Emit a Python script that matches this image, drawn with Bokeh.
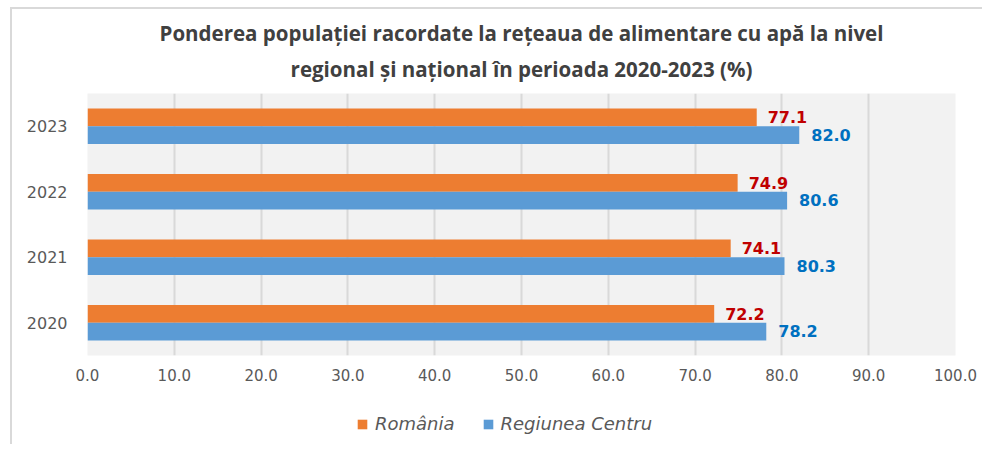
from bokeh.plotting import figure
from bokeh.models import FactorRange, Range1d, Legend, LegendItem, ColumnDataSource, NumeralTickFormatter, FixedTicker, Title
from bokeh.layouts import column
from bokeh.transform import dodge
from bokeh.core.properties import value
from bokeh.embed import file_html
from bokeh.resources import INLINE

years = ["2020", "2021", "2022", "2023"]
romania = [72.2, 74.1, 74.9, 77.1]
centru = [78.2, 80.3, 80.6, 82.0]
series_names = ["România", "Regiunea Centru"]
series_colors = ["#ed7d31", "#5b9bd5"]
x_ticks = [0, 10, 20, 30, 40, 50, 60, 70, 80, 90, 100]
title_lines = ["Ponderea populației racordate la rețeaua de alimentare cu apă la nivel",
               "regional și național în perioada 2020-2023 (%)"]

src = ColumnDataSource(dict(
    year=years, ro=romania, ce=centru,
    ro_lbl=[f"{v:.1f}" for v in romania],
    ce_lbl=[f"{v:.1f}" for v in centru],
))

W = 970
p = figure(width=W, height=391, y_range=FactorRange(factors=years),
           x_range=Range1d(0, 100), output_backend="svg", toolbar_location=None,
           min_border_left=75, min_border_right=27, min_border_top=84, min_border_bottom=45)

def style_title(t):
    t.align = "center"
    t.text_font = "Open Sans"
    t.text_font_size = "20.5px"
    t.text_font_style = "bold"
    t.text_color = "#404040"

p.title.text = title_lines[0]
style_title(p.title)
p.title.standoff = -11
p.title.offset = -27
t2 = Title(text=title_lines[1])
style_title(t2)
t2.standoff = 22
t2.offset = -15
p.add_layout(t2, "above")

p.background_fill_color = "#f2f2f2"
p.border_fill_color = "white"
p.outline_line_color = None

bh = 0.27
r_ro = p.hbar(y=dodge("year", 0.135, range=p.y_range), right="ro", left=0, height=bh,
              source=src, fill_color=series_colors[0], line_color=None)
r_ce = p.hbar(y=dodge("year", -0.135, range=p.y_range), right="ce", left=0, height=bh,
              source=src, fill_color=series_colors[1], line_color=None)

p.text(x="ro", y=dodge("year", 0.14, range=p.y_range), text="ro_lbl", source=src,
       x_offset=11, text_baseline="middle", text_align="left",
       text_font=value("DejaVu Sans"), text_font_size="16px", text_font_style="bold",
       text_color="#c00000")
p.text(x="ce", y=dodge("year", -0.13, range=p.y_range), text="ce_lbl", source=src,
       x_offset=12, text_baseline="middle", text_align="left",
       text_font=value("DejaVu Sans"), text_font_size="16px", text_font_style="bold",
       text_color="#0070c0")

p.xgrid.grid_line_color = "#d9d9d9"
p.xgrid.grid_line_width = 2
p.ygrid.grid_line_color = None

p.xaxis.ticker = FixedTicker(ticks=x_ticks)
p.xaxis.formatter = NumeralTickFormatter(format="0.0")
for ax in (p.xaxis[0], p.yaxis[0]):
    ax.axis_line_color = None
    ax.major_tick_line_color = None
    ax.minor_tick_line_color = None
    ax.major_tick_out = 0
    ax.major_tick_in = 0
    ax.major_label_text_color = "#595959"
    ax.major_label_text_font = "DejaVu Sans"
p.xaxis.major_label_text_font_size = "15px"
p.yaxis.major_label_text_font_size = "16px"
p.xaxis.major_label_standoff = 13
p.yaxis.major_label_standoff = 20

# legend row (swatch renderers sit outside the visible range)
pl = figure(width=W, height=44, x_range=Range1d(0, 1), y_range=Range1d(0, 1),
            output_backend="svg", toolbar_location=None,
            x_axis_location=None, y_axis_location=None,
            min_border_left=0, min_border_right=0, min_border_top=0, min_border_bottom=0)
pl.grid.grid_line_color = None
pl.outline_line_color = None
pl.background_fill_color = "white"
lr = [pl.hbar(y=[-10], right=[-10], left=-11, height=0.5, fill_color=c, line_color=None)
      for c in series_colors]
legend = Legend(items=[LegendItem(label=n, renderers=[r]) for n, r in zip(series_names, lr)],
                orientation="horizontal", location=(269, 10),
                label_text_font="DejaVu Sans", label_text_font_style="italic",
                label_text_font_size="18px", label_text_color="#595959",
                glyph_width=12, glyph_height=12, spacing=27, label_standoff=7,
                border_line_color=None, background_fill_alpha=0, margin=0, padding=4)
pl.add_layout(legend, "center")

layout = column(p, pl, spacing=0, margin=(7, 0, 0, 10))
layout.styles = {"border-left": "2px solid #d9d9d9", "border-top": "2px solid #d9d9d9"}
open("out.html", "w").write(file_html(layout, INLINE))
